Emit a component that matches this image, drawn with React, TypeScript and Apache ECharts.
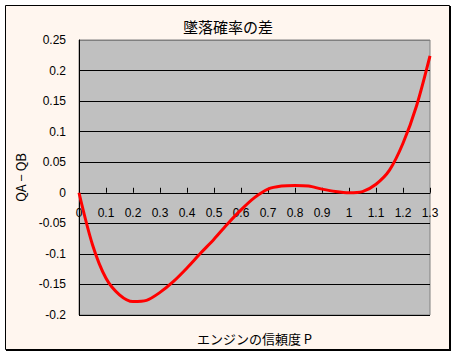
import React, { useEffect, useRef } from "react";
import * as echarts from "echarts";

const titleText = "墜落確率の差";
const xAxisName = "エンジンの信頼度 P";
const yAxisName = "QA − QB";

// reliability P
const pValues = [0, 0.05, 0.1, 0.15, 0.2, 0.25, 0.3, 0.35, 0.4, 0.45, 0.5, 0.55, 0.6, 0.65, 0.7, 0.75, 0.8, 0.85, 0.9, 0.95, 1.0, 1.05, 1.1, 1.15, 1.2, 1.25, 1.3];
// QA - QB
const diffValues = [0, -0.085, -0.14, -0.167, -0.178, -0.176, -0.163, -0.145, -0.123, -0.099, -0.076, -0.051, -0.028, -0.008, 0.006, 0.011, 0.012, 0.011, 0.006, 0.002, 0.0, 0.002, 0.014, 0.037, 0.081, 0.142, 0.224];

const xMin = 0;
const xMax = 1.3;
const xStep = 0.1;
const yMin = -0.2;
const yMax = 0.25;
const yStep = 0.05;

function fmt(v: number, digits: number): string {
  const f = Math.pow(10, digits);
  const r = Math.round(v * f) / f;
  if (r === 0) return "0";
  return r < 0 ? "-" + String(-r) : String(r);
}

export default function App() {
  const ref = useRef<HTMLDivElement>(null);
  useEffect(() => {
    if (!ref.current) return;
    const chart = echarts.init(ref.current, undefined, { renderer: "svg" });
    const numFont = "'Liberation Sans', Arial, sans-serif";
    const jpFont = "'Noto Sans CJK JP', sans-serif";
    const nSplit = Math.round((yMax - yMin) / yStep) + 1;
    const splitColors: string[] = [];
    for (let i = 0; i < nSplit; i++) splitColors.push(i === nSplit - 1 ? "#808080" : "#000000");
    const gridTop = 40;
    const gridBottom = 41;
    const plotHeight = 356 - gridTop - gridBottom;
    // shift the x axis up to the y = 0 line
    const xAxisOffset = -((0 - yMin) / (yMax - yMin)) * plotHeight;
    chart.setOption({
      animation: false,
      backgroundColor: "#ffffff",
      graphic: [
        {
          type: "rect",
          z: -10,
          silent: true,
          shape: { x: 6, y: 6, width: 445, height: 345 },
          style: { fill: "#000000", stroke: "none" },
        },
        {
          type: "rect",
          z: -9,
          silent: true,
          shape: { x: 5.5, y: 5.5, width: 444, height: 344 },
          style: { fill: "#FFF6EF", stroke: "#000000", lineWidth: 1 },
        },
        {
          type: "text",
          silent: true,
          style: {
            text: xAxisName,
            x: 254.5,
            y: 338,
            fill: "#000000",
            font: `13px ${jpFont}`,
            textAlign: "center",
            textVerticalAlign: "middle",
          },
        },
      ],
      title: {
        text: titleText,
        left: "center",
        top: 14,
        textStyle: { fontFamily: jpFont, fontSize: 15, fontWeight: "normal", color: "#000000" },
      },
      grid: {
        left: 79,
        right: 26,
        top: gridTop,
        bottom: gridBottom,
        show: true,
        backgroundColor: "#C0C0C0",
        borderColor: "#808080",
        borderWidth: 1,
        outerBoundsMode: "none",
      },
      xAxis: {
        type: "value",
        min: xMin,
        max: xMax,
        interval: xStep,
        position: "bottom",
        offset: xAxisOffset,
        axisLine: { onZero: false, lineStyle: { color: "#000000", width: 1 } },
        axisTick: { show: true, inside: true, length: 5, lineStyle: { color: "#000000" } },
        axisLabel: {
          margin: 14,
          fontSize: 12,
          fontFamily: numFont,
          color: "#000000",
          formatter: (v: number) => fmt(v, 1),
          showMinLabel: true,
          showMaxLabel: true,
        },
        splitLine: { show: false },
      },
      yAxis: {
        type: "value",
        min: yMin,
        max: yMax,
        interval: yStep,
        name: yAxisName,
        nameLocation: "middle",
        nameGap: 52,
        nameRotate: 90,
        nameTextStyle: { fontFamily: jpFont, fontSize: 13, color: "#000000" },
        axisLine: { show: true, onZero: false, lineStyle: { color: "#000000", width: 1 } },
        axisTick: { show: false },
        axisLabel: {
          margin: 13,
          fontSize: 12,
          fontFamily: numFont,
          color: "#000000",
          formatter: (v: number) => fmt(v, 2),
        },
        splitLine: { show: true, lineStyle: { color: splitColors, width: 1 } },
      },
      series: [
        {
          type: "line",
          data: pValues.map((p, i) => [p, diffValues[i]]),
          symbol: "none",
          smooth: 0.3,
          lineStyle: { color: "#FF0000", width: 3 },
          z: 5,
        },
      ],
    });
    return () => chart.dispose();
  }, []);
  return (
    <div
      ref={ref}
      style={{ position: "fixed", left: 0, top: 0, width: 456, height: 356 }}
    />
  );
}
